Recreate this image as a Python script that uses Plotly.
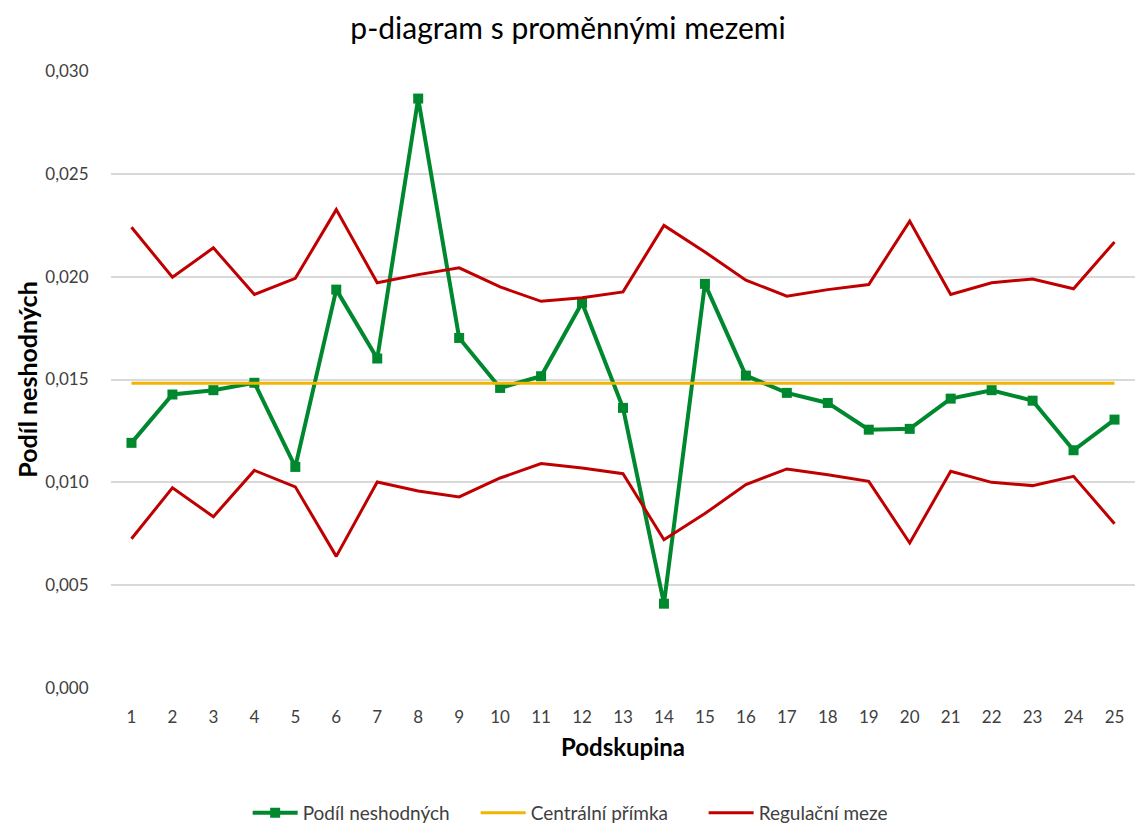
import plotly.graph_objects as go

subgroups = list(range(1, 26))
podil = [0.01192, 0.01427, 0.01448, 0.01484, 0.01075, 0.01937, 0.01602, 0.02866, 0.01702, 0.01459,
         0.01516, 0.01873, 0.01362, 0.00410, 0.01965, 0.01519, 0.01435, 0.01386, 0.01256, 0.01260,
         0.01407, 0.01448, 0.01397, 0.01156, 0.01305]
central_value = 0.01482
ucl = [0.02240, 0.01997, 0.02140, 0.01913, 0.01992, 0.02326, 0.01970, 0.02010, 0.02043, 0.01950,
       0.01880, 0.01897, 0.01926, 0.02249, 0.02120, 0.01983, 0.01905, 0.01937, 0.01962, 0.02270,
       0.01913, 0.01970, 0.01989, 0.01941, 0.02169]
lcl = [0.00726, 0.00973, 0.00833, 0.01058, 0.00978, 0.00640, 0.01002, 0.00958, 0.00929, 0.01021,
       0.01091, 0.01070, 0.01042, 0.00721, 0.00848, 0.00989, 0.01065, 0.01037, 0.01005, 0.00705,
       0.01054, 0.01000, 0.00984, 0.01029, 0.00799]
y_ticks = [0.0, 0.005, 0.010, 0.015, 0.020, 0.025, 0.030]
y_tick_labels = ["0,000", "0,005", "0,010", "0,015", "0,020", "0,025", "0,030"]

GREEN = "#00882E"
GOLD = "#F2B400"
RED = "#C00000"
FONT = "Lato"

fig = go.Figure()
fig.add_trace(go.Scatter(
    x=subgroups, y=podil, mode="lines+markers", name="Podíl neshodných",
    line=dict(color=GREEN, width=4), marker=dict(symbol="square", size=10, color=GREEN)))
fig.add_trace(go.Scatter(
    x=subgroups, y=[central_value] * len(subgroups), mode="lines", name="Centrální přímka",
    line=dict(color=GOLD, width=3)))
fig.add_trace(go.Scatter(
    x=subgroups, y=ucl, mode="lines", name="Regulační meze", legendgroup="meze",
    line=dict(color=RED, width=3)))
fig.add_trace(go.Scatter(
    x=subgroups, y=lcl, mode="lines", name="Regulační meze", legendgroup="meze", showlegend=False,
    line=dict(color=RED, width=3)))

fig.update_layout(
    width=1136, height=825,
    paper_bgcolor="white", plot_bgcolor="white",
    margin=dict(l=111, r=1, t=71, b=137, autoexpand=False),
    title=dict(text="p-diagram s proměnnými mezemi", x=0.5, xanchor="center", y=0.966, yanchor="middle",
               font=dict(family=FONT, size=30, color="#000000")),
    font=dict(family=FONT, color="#404040"),
    showlegend=True,
    legend=dict(orientation="h", xref="container", x=0.218, xanchor="left",
                yref="container", y=12 / 825, yanchor="middle",
                font=dict(family=FONT, size=19, color="#404040"), itemwidth=45,
                entrywidth=168, traceorder="normal"),
    xaxis=dict(
        range=[0.5, 25.5], tickmode="array", tickvals=subgroups, ticktext=[str(s) for s in subgroups],
        showgrid=False, zeroline=False, showline=False, ticks="outside", ticklen=14,
        tickcolor="rgba(0,0,0,0)", automargin=False,
        tickfont=dict(family=FONT, size=17, color="#404040"),
        title=dict(text="<b>Podskupina</b>", font=dict(family=FONT, size=24, color="#000000"), standoff=12)),
    yaxis=dict(
        range=[0, 0.030], tickmode="array", tickvals=y_ticks, ticktext=y_tick_labels,
        showgrid=True, gridcolor="#D9D9D9", gridwidth=1.5, zeroline=False, showline=False,
        ticks="outside", ticklen=18, tickcolor="rgba(0,0,0,0)", automargin=False,
        tickfont=dict(family=FONT, size=17, color="#404040"),
        title=dict(text="<b>Podíl neshodných</b>", font=dict(family=FONT, size=25, color="#000000"), standoff=0)),
)

fig.write_html("out.html", config={"displayModeBar": False},
               post_script="document.body.style.margin='0px';document.body.style.overflow='hidden';")
